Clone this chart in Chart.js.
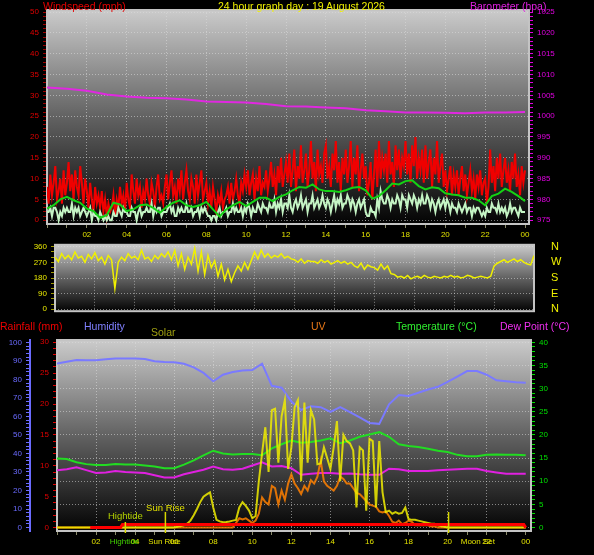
<!DOCTYPE html>
<html>
<head>
<meta charset="utf-8">
<title>24 hour graph</title>
<script src="https://cdn.jsdelivr.net/npm/chart.js@4.4.1/dist/chart.umd.min.js"></script>
<style>
  body { margin: 0; background: #000; }
  #page { position: relative; width: 594px; height: 555px; overflow: hidden; background: #000;
          font-family: "Liberation Sans", Arial, sans-serif; }
  #page canvas { position: absolute; left: 0; }
  .lbl { position: absolute; font-size: 10.5px; line-height: 12px; white-space: nowrap; }
</style>
</head>
<body>
<div id="page">
  <canvas id="windChart" width="594" height="240" style="top:0"></canvas>
  <canvas id="dirChart" width="594" height="84" style="top:236px"></canvas>
  <canvas id="climateChart" width="594" height="225" style="top:330px"></canvas>

  <div class="lbl" style="left:43px;top:0;color:#e80000">Windspeed (mph)</div>
  <div class="lbl" style="left:218px;top:0;color:#f0f000">24 hour graph day : 19 August 2026</div>
  <div class="lbl" style="left:470px;top:0;color:#e020e0">Barometer (hpa)</div>

  <div class="lbl" style="left:0;top:320px;color:#f00000">Rainfall (mm)</div>
  <div class="lbl" style="left:84px;top:320px;color:#8080ff">Humidity</div>
  <div class="lbl" style="left:151px;top:326px;color:#a0a010">Solar</div>
  <div class="lbl" style="left:311px;top:320px;color:#e87818">UV</div>
  <div class="lbl" style="left:396px;top:320px;color:#30f030">Temperature (°C)</div>
  <div class="lbl" style="left:500px;top:320px;color:#f030f0">Dew Point (°C)</div>
</div>

<script>
// ---------- data ----------
// gust and wind speed, 5 minute samples from 00:00 to 24:00 (mph)
const WIND_STEP = 1 / 12;
const windGust = [
  8, 4, 11, 6, 9, 13, 5, 7, 10, 4, 12, 6,
  9, 14, 7, 11, 5, 12, 8, 6, 13, 9, 4, 10,
  7, 3, 9, 5, 2, 8, 4, 6, 3, 7, 2, 5,
  1, 4, 2, 3, 6, 1, 5, 3, 8, 4, 6, 2,
  9, 5, 3, 11, 7, 4, 10, 6, 8, 3, 7, 5,
  10, 6, 4, 9, 7, 3, 8, 11, 5, 6, 4, 8,
  11, 5, 9, 12, 6, 8, 4, 10, 7, 12, 5, 9,
  12, 7, 5, 10, 8, 4, 11, 6, 9, 12, 5, 7,
  9, 4, 7, 3, 8, 5, 2, 6, 4, 7, 3, 5,
  6, 8, 4, 9, 5, 7, 10, 6, 4, 9, 7, 11,
  8, 12, 6, 9, 11, 5, 10, 7, 13, 6, 9, 8,
  12, 7, 10, 14, 8, 11, 6, 13, 9, 15, 8, 11,
  14, 9, 16, 8, 12, 17, 7, 13, 10, 18, 9, 12,
  16, 8, 12, 19, 10, 14, 7, 17, 11, 13, 9, 16,
  18, 10, 13, 8, 16, 12, 19, 9, 14, 7, 15, 11,
  17, 9, 13, 19, 8, 15, 11, 18, 7, 12, 16, 10,
  13, 6, 9, 14, 5, 11, 17, 8, 19, 10, 15, 12,
  16, 9, 19, 11, 14, 8, 18, 12, 17, 10, 15, 13,
  19, 11, 16, 9, 18, 13, 20, 10, 15, 12, 17, 9,
  18, 10, 14, 17, 8, 15, 11, 19, 9, 13, 16, 8,
  12, 7, 10, 13, 6, 11, 8, 12, 6, 10, 13, 7,
  11, 6, 9, 12, 7, 10, 5, 11, 8, 12, 6, 9,
  10, 4, 8, 17, 9, 13, 7, 15, 10, 16, 8, 12,
  15, 9, 12, 7, 14, 10, 16, 8, 11, 6, 13, 9,
  12
];
const windSpeed = [
  2, 2, 3, 1, 3, 3, 2, 0, 2, 1, 3, 2,
  3, 2, 2, 4, 1, 3, 2, 3, 1, 2, 3, 2,
  1, 2, 3, 0, 2, 1, 1, 0, 2, 1, 0, 1,
  0, 1, 0, 0, 2, 1, 1, 3, 2, 1, 3, 2,
  2, 1, 1, 3, 2, 2, 0, 2, 3, 1, 2, 2,
  3, 2, 2, 4, 1, 3, 2, 3, 3, 1, 2, 2,
  2, 3, 4, 2, 3, 1, 1, 3, 2, 3, 2, 2,
  4, 2, 2, 3, 1, 2, 2, 3, 1, 3, 2, 3,
  2, 1, 1, 0, 1, 1, 0, 2, 3, 1, 2, 2,
  3, 1, 2, 2, 4, 2, 3, 2, 2, 3, 1, 3,
  2, 4, 3, 1, 3, 2, 2, 4, 3, 2, 4, 3,
  3, 2, 4, 3, 3, 5, 2, 4, 3, 5, 2, 4,
  4, 3, 6, 3, 2, 4, 5, 3, 4, 6, 3, 4,
  5, 2, 4, 4, 6, 3, 4, 5, 3, 4, 6, 4,
  3, 5, 4, 2, 4, 6, 3, 5, 4, 6, 3, 4,
  4, 6, 5, 3, 5, 4, 2, 4, 5, 3, 4, 5,
  2, 1, 1, 3, 2, 2, 1, 5, 3, 7, 5, 4,
  4, 6, 5, 3, 5, 4, 4, 6, 5, 3, 6, 5,
  5, 3, 6, 5, 4, 6, 5, 3, 5, 4, 6, 4,
  4, 6, 5, 3, 5, 4, 2, 4, 5, 3, 4, 5,
  3, 5, 4, 2, 4, 3, 3, 2, 4, 3, 2, 3,
  4, 2, 3, 3, 1, 3, 2, 3, 3, 2, 1, 2,
  1, 3, 2, 2, 4, 3, 3, 2, 4, 2, 3, 2,
  3, 1, 2, 4, 2, 3, 3, 2, 1, 3, 2, 2,
  2
];
// average wind, 20 minute samples (mph)
const AVG_STEP = 1 / 3;
const windAvg = [
  2.8, 3.6, 5.0, 5.6, 4.8, 4.2, 2.8, 2.2, 0.6, 1.2, 4.2, 3.8, 2.2, 2.6, 3.6, 3.8, 3.0, 1.8,
  3.2, 4.2, 4.8, 3.6, 3.2, 3.6, 4.4, 2.6, 0.9, 2.6, 3.6, 4.4, 3.4, 4.4, 5.4, 5.4, 4.6, 5.6,
  6.2, 7.2, 8.0, 7.8, 8.6, 7.4, 7.0, 7.0, 6.8, 7.2, 7.8, 8.0, 7.2, 5.2, 5.8, 7.2, 8.8, 8.6,
  9.4, 9.6, 8.2, 7.4, 7.9, 7.7, 6.5, 6.2, 6.0, 5.4, 5.4, 4.8, 3.6, 5.8, 6.4, 7.6, 6.8, 5.8,
  4.6
];
// barometer, hourly (hPa)
const baro = [
  1006.9, 1006.6, 1006.1, 1005.2, 1004.7, 1004.4, 1004.3, 1004.0, 1003.5, 1003.4, 1003.3, 1002.9,
  1002.4, 1002.3, 1002.1, 1001.9, 1001.4, 1001.2, 1000.9, 1000.9, 1000.8, 1000.7, 1000.9, 1000.9,
  1001.0
];
// wind direction, 10 minute samples (degrees)
const DIR_STEP = 1 / 6;
const windDir = [
  300, 275, 320, 290, 310, 285,  330, 295, 305, 270, 315, 290,  325, 280, 300, 260, 310, 285,
  120, 270, 300, 280, 320, 295,  305, 285, 340, 290, 300, 275,  310, 290, 320, 300, 330, 285,
  340, 250, 320, 230, 300, 260,  350, 220, 330, 200, 310, 240,  280, 190, 260, 170, 230, 160,
  210, 250, 220, 270, 230, 280,  330, 290, 340, 300, 320, 295,  310, 300, 320, 295, 305, 290,
  285, 270, 290, 265, 280, 275,  275, 265, 285, 270, 280, 260,  270, 280, 265, 275, 260, 270,
  250, 240, 265, 230, 255, 245,  240, 225, 260, 230, 250, 205,  200, 185, 190, 180, 195, 175,
  185, 190, 180, 195, 185, 180,  190, 185, 180, 190, 185, 195,  185, 190, 180, 185, 195, 190,
  180, 185, 190, 185, 180, 190,  250, 265, 275, 285, 270, 280,  290, 275, 285, 270, 260, 255,
  310
];
const dirNames = { 0: 'N', 90: 'E', 180: 'S', 270: 'W', 360: 'N' };

// climate, 30 minute samples
const CLIMATE_STEP = 0.5;
const humidity = [
  88.5, 89.5, 90.5, 90.3, 90.3, 90.8, 91.2, 91.2, 91.2, 91.0, 89.8, 89.4, 89.2, 88.4, 86.5, 83.5,
  79.0, 82.5, 84.0, 84.8, 85.0, 88.5, 76.5, 75.5, 68.0, 63.5, 65.5, 65.0, 62.5, 65.0, 62.3, 59.5,
  56.5, 56.0, 66.5, 71.5, 71.0, 72.8, 74.5, 76.0, 78.6, 81.5, 84.5, 84.5, 82.5, 79.5, 79.0, 78.5,
  78.2
];
const temperature = [
  14.9, 14.8, 14.1, 13.7, 13.5, 13.5, 13.7, 13.6, 13.6, 13.4, 13.2, 12.8, 12.8, 13.6, 14.5, 15.6,
  16.6, 16.0, 15.8, 15.9, 15.9, 15.6, 17.1, 18.0, 18.8, 18.3, 18.5, 18.8, 19.3, 18.2, 18.8, 19.6,
  20.1, 20.6, 19.6, 18.0, 17.6, 17.4, 17.0, 16.6, 16.3, 15.7, 15.4, 15.4, 15.7, 15.8, 15.7, 15.7,
  15.6
];
const dewPoint = [
  12.4, 12.6, 13.0, 12.4, 11.8, 11.9, 12.2, 12.0, 11.9, 11.8, 11.3, 10.8, 10.8, 11.5, 12.0, 12.5,
  13.2, 12.6, 12.5, 12.7, 13.4, 14.1, 13.2, 13.3, 12.8, 11.4, 11.6, 11.8, 11.8, 11.6, 11.7, 11.5,
  11.4, 11.4, 12.7, 12.6, 12.2, 12.2, 12.2, 12.4, 12.5, 12.6, 12.7, 12.7, 12.2, 11.9, 11.6, 11.6,
  11.6
];
// solar (W/m2) and UV index, 10 minute samples
const SUN_STEP = 1 / 6;
const solar = [
  0, 0, 0, 0, 0, 0,  0, 0, 0, 0, 0, 0,  0, 0, 0, 0, 0, 0,  0, 0, 0, 0, 0, 0,
  0, 0, 0, 0, 0, 0,  0, 0, 0, 0, 0, 0,  0, 5, 10, 15, 25, 45,  80, 120, 165, 200, 215, 228,
  130, 50, 40, 35, 36, 40,  45, 50, 130, 165, 140, 110,  60, 75, 300, 480, 650, 360,
  760, 770, 420, 720, 825, 380,  520, 780, 825, 300, 810, 420,  760, 700, 410, 415, 520, 450,
  380, 520, 690, 300, 600, 560,  545, 500, 130, 520, 500, 110,  575, 560, 130, 560, 230, 100,
  110, 90, 100, 90, 95, 130,  55, 50, 50, 45, 40, 35,  30, 25, 25, 15, 10, 5,
  0, 0, 0, 0, 0, 0,  0, 0, 0, 0, 0, 0,  0, 0, 0, 0, 0, 0,  0, 0, 0, 0, 0, 0,
  0
];
const uvIndex = [
  0, 0, 0, 0, 0, 0,  0, 0, 0, 0, 0, 0,  0, 0, 0, 0, 0, 0,  0, 0, 0, 0, 0, 0,
  0, 0, 0, 0, 0, 0,  0, 0, 0, 0, 0, 0,  0, 0, 0, 0, 0, 0,  0, 0, 0, 0, 0, 0,
  0, 0, 0, 0, 0, 0,  0, 0.4, 0.8, 0.7, 0.8, 0.6,  0.4, 0.6, 1.2, 2.6, 2.2, 2.0,
  3.6, 3.4, 2.0, 3.2, 2.4, 3.8,  4.6, 3.8, 3.4, 2.9, 3.6, 3.2,  4.1, 3.8, 4.4, 5.8, 4.0, 3.6,
  3.4, 3.2, 3.6, 4.4, 4.2, 3.8,  3.8, 3.4, 3.0, 2.9, 2.6, 2.3,  2.0, 1.9, 1.8, 1.4, 1.3, 1.4,
  1.0, 0.5, 0.4, 0.6, 0.3, 0.4,  0.6, 0.5, 0.2, 0.2, 0.2, 0.2,  0.2, 0.1, 0.1, 0, 0, 0,
  0, 0, 0, 0, 0, 0,  0, 0, 0, 0, 0, 0,  0, 0, 0, 0, 0, 0,  0, 0, 0, 0, 0, 0,
  0
];
// rainfall total (mm)
const rainTimes = [1.7, 3.25, 3.35, 23.9, 24.0];
const rainfall = [0, 0, 0.5, 0.5, 0];

// events shown on the climate graph
const eventNames = ['Hightide', 'Sun Rise', 'Sun Set', 'Moon Set'];
const eventTimes = [3.5, 5.55, 20.05, 21.6];

// ---------- helpers ----------
Chart.defaults.font.family = '"Liberation Sans", Arial, sans-serif';
Chart.defaults.animation = false;

const TICK_FONT = { size: 8 };
const GRID = 'rgba(220,220,220,0.55)';

function range(from, to, step) {
  const out = [];
  for (let v = from; v <= to + 1e-9; v += step) out.push(v);
  return out;
}

function at(start, step, values) {
  return values.map((v, i) => ({ x: start + i * step, y: v }));
}

function pairs(xs, ys) {
  return ys.map((v, i) => ({ x: xs[i], y: v }));
}

function line(data, color, width, yAxisID, order) {
  return { data, borderColor: color, borderWidth: width, yAxisID, order,
           pointRadius: 0, tension: 0, fill: false };
}

function hourAxis(max, height) {
  return {
    type: 'linear', min: 0, max: max,
    afterBuildTicks: s => { s.ticks = range(0, 24, 1).map(v => ({ value: v })); },
    afterFit: s => { s.height = height; },
    ticks: {
      display: height > 0, autoSkip: false, maxRotation: 0, color: '#e0e000', font: TICK_FONT, padding: 2,
      callback: v => (v % 2 === 0 && v > 0) ? String(v % 24).padStart(2, '0') : ''
    },
    grid: {
      color: c => (c.tick && c.tick.value % 2 === 0 && c.tick.value > 0 && c.tick.value < 24) ? GRID : 'transparent',
      drawTicks: height > 0, tickLength: 4, tickColor: '#8a8a6a'
    },
    border: { display: false, dash: [1, 2] }
  };
}

function valueAxis(o) {
  return {
    type: 'linear', position: o.position, min: o.min, max: o.max, weight: o.weight || 0,
    afterBuildTicks: s => { s.ticks = range(o.from, o.to, o.step).map(v => ({ value: v })); },
    afterFit: s => { s.width = o.width; },
    ticks: {
      autoSkip: false, color: o.color, font: TICK_FONT, padding: 4,
      callback: v => (Math.round(v - o.from) % o.labelEvery === 0) ? v : ''
    },
    grid: {
      drawOnChartArea: !!o.gridEvery,
      color: c => (o.gridEvery && c.tick && Math.round(c.tick.value - o.from) % o.gridEvery === 0) ? GRID : 'transparent',
      tickColor: o.tickColor || o.color, tickLength: 4
    },
    border: { display: !!o.border, color: o.color, width: 2, dash: [1, 2] }
  };
}

// grey gradient plot background with a light frame
const plotBackground = {
  id: 'plotBackground',
  beforeDraw(chart) {
    const { ctx, chartArea: a } = chart;
    const g = ctx.createLinearGradient(0, a.top, 0, a.bottom);
    g.addColorStop(0, '#cbcbcb');
    g.addColorStop(0.5, '#626262');
    g.addColorStop(1, '#030303');
    ctx.save();
    ctx.fillStyle = g;
    ctx.fillRect(a.left, a.top, a.width, a.height);
    ctx.restore();
  },
  beforeDatasetsDraw(chart) {
    const { ctx, chartArea: a } = chart;
    ctx.save();
    ctx.strokeStyle = '#c4c4c4';
    ctx.lineWidth = 2;
    ctx.strokeRect(a.left, a.top, a.width, a.height);
    ctx.restore();
  }
};

// tide / sun / moon markers on the climate graph
const eventMarks = {
  id: 'eventMarks',
  afterDatasetsDraw(chart, args, opts) {
    const { ctx, chartArea: a } = chart;
    const x = chart.scales.x;
    ctx.save();
    eventTimes.forEach((t, i) => {
      const px = x.getPixelForValue(t);
      const h = opts.lineHeights[i];
      if (h > 0) {
        ctx.strokeStyle = '#d8d800';
        ctx.lineWidth = 1.5;
        ctx.beginPath();
        ctx.moveTo(px, a.bottom + 2);
        ctx.lineTo(px, a.bottom - h);
        ctx.stroke();
      }
      ctx.textAlign = 'center';
      if (opts.plotColors[i]) {
        ctx.font = '9.5px "Liberation Sans", Arial, sans-serif';
        ctx.fillStyle = opts.plotColors[i];
        ctx.textBaseline = 'alphabetic';
        ctx.fillText(eventNames[i], px, a.bottom - h - opts.plotGap[i]);
      }
      if (opts.axisColors[i]) {
        ctx.font = '8px "Liberation Sans", Arial, sans-serif';
        ctx.fillStyle = opts.axisColors[i];
        ctx.textBaseline = 'middle';
        ctx.fillText(eventNames[i], px - 1, a.bottom + 11);
      }
    });
    ctx.restore();
  }
};

// ---------- wind speed / barometer ----------
new Chart(document.getElementById('windChart'), {
  type: 'line',
  data: {
    datasets: [
      line(at(0, AVG_STEP, windAvg), '#14d214', 2, 'yWind', 1),
      line(at(0, WIND_STEP, windSpeed), '#c4f4c4', 2, 'yWind', 2),
      line(at(0, WIND_STEP, windGust), '#f00000', 2, 'yWind', 3),
      line(at(0, 1, baro), '#e028e0', 2, 'yBaro', 0)
    ]
  },
  options: {
    responsive: false,
    layout: { padding: { top: 10 } },
    plugins: { legend: { display: false }, tooltip: { enabled: false } },
    scales: {
      x: hourAxis(24.2, 16),
      yWind: valueAxis({ position: 'left', min: -0.9, max: 50.5, from: 0, to: 50, step: 1,
                         labelEvery: 5, gridEvery: 5, color: '#e00000', tickColor: '#a00000', width: 47 }),
      yBaro: valueAxis({ position: 'right', min: 974.1, max: 1025.5, from: 975, to: 1025, step: 1,
                         labelEvery: 5, color: '#e000e0', width: 65 })
    }
  },
  plugins: [plotBackground]
});

// ---------- wind direction ----------
new Chart(document.getElementById('dirChart'), {
  type: 'line',
  data: {
    datasets: [ line(at(0, DIR_STEP, windDir), '#f0f000', 1.5, 'yDir', 0) ]
  },
  options: {
    responsive: false,
    layout: { padding: { top: 8, bottom: 8 } },
    plugins: { legend: { display: false }, tooltip: { enabled: false } },
    scales: {
      x: hourAxis(24, 0),
      yDir: valueAxis({ position: 'left', min: -11, max: 371, from: 0, to: 360, step: 30,
                        labelEvery: 90, gridEvery: 90, color: '#e8e800', tickColor: '#a09a00', width: 55 }),
      yName: {
        type: 'linear', position: 'right', min: -11, max: 371,
        afterBuildTicks: s => { s.ticks = range(0, 360, 90).map(v => ({ value: v })); },
        afterFit: s => { s.width = 60; },
        ticks: { autoSkip: false, color: '#f0f000', font: { size: 11 }, padding: 1,
                 callback: v => dirNames[v] },
        grid: { drawOnChartArea: false, drawTicks: true, tickLength: 16, tickColor: 'transparent' },
        border: { display: false }
      }
    }
  },
  plugins: [plotBackground]
});

// ---------- rain, humidity, solar, UV, temperature, dew point ----------
const T_MIN = -0.74, T_MAX = 40.5;
new Chart(document.getElementById('climateChart'), {
  type: 'line',
  data: {
    datasets: [
      line(pairs(rainTimes, rainfall), '#ff0000', 3, 'yRain', 0),
      line(at(0, SUN_STEP, solar), 'rgba(240,236,0,0.85)', 2, 'ySolar', 1),
      line(at(0, SUN_STEP, uvIndex), 'rgba(255,128,0,0.85)', 2, 'yUV', 2),
      line(at(0, CLIMATE_STEP, temperature), '#22dc22', 2, 'yTemp', 3),
      line(at(0, CLIMATE_STEP, dewPoint), '#e020e0', 2, 'yTemp', 4),
      line(at(0, CLIMATE_STEP, humidity), '#7a7aff', 2, 'yHum', 5)
    ]
  },
  options: {
    responsive: false,
    layout: { padding: { top: 10 } },
    plugins: {
      legend: { display: false }, tooltip: { enabled: false },
      eventMarks: {
        lineHeights: [9, 19, 19, 0],
        plotGap: [3, 1, 0, 0],
        plotColors: ['#b4d200', '#e0e000', null, null],
        axisColors: ['#40d000', '#e0e000', null, '#e0e000']
      }
    },
    scales: {
      x: hourAxis(24.27, 24),
      yHum: valueAxis({ position: 'left', weight: 2, min: -1.85, max: 101.25, from: 0, to: 100, step: 2,
                        labelEvery: 10, color: '#6b6bff', width: 30, border: true }),
      yRain: valueAxis({ position: 'left', weight: 1, min: -0.55, max: 30.37, from: 0, to: 30, step: 1,
                         labelEvery: 5, color: '#e00000', width: 27 }),
      yTemp: valueAxis({ position: 'right', min: T_MIN, max: T_MAX, from: 0, to: 40, step: 1,
                         labelEvery: 5, gridEvery: 5, color: '#00e000', width: 63 }),
      ySolar: { type: 'linear', display: false, min: T_MIN * 30, max: T_MAX * 30 },
      yUV: { type: 'linear', display: false, min: T_MIN * 0.4, max: T_MAX * 0.4 }
    }
  },
  plugins: [plotBackground, eventMarks]
});
</script>
</body>
</html>
